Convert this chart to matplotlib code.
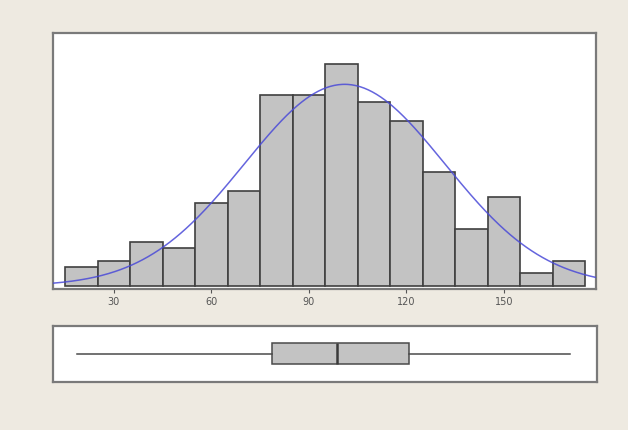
import numpy as np
import matplotlib
matplotlib.use("Agg")
import matplotlib.pyplot as plt

# Histogram data (bin edges and counts)
bin_edges = [15, 25, 35, 45, 55, 65, 75, 85, 95, 105, 115, 125, 135, 145, 155, 165, 175]
counts = [3, 4, 7, 6, 13, 15, 30, 30, 35, 29, 26, 18, 9, 14, 2, 4]

# Fitted normal curve parameters (estimated)
fit_mean = 101.0
fit_sd = 30.8

# Box plot summary (estimated)
box_min = 18.6
box_q1 = 78.4
box_median = 98.5
box_q3 = 120.4
box_max = 169.9

x_ticks = [30, 60, 90, 120, 150]

bg = "#EEEAE1"
frame_col = "#7A7A7A"

fig = plt.figure(figsize=(6.28, 4.31), dpi=100)
fig.patch.set_facecolor(bg)

ax = fig.add_axes([0.0839, 0.327, 0.8645, 0.594])
ax2 = fig.add_axes([0.0839, 0.1125, 0.8665, 0.1295])

xlim = (11.2, 178.2)

# Histogram
edges = np.array(bin_edges, dtype=float)
ax.bar(edges[:-1], counts, width=np.diff(edges), align="edge",
       color="#C3C3C3", edgecolor="#404040", linewidth=1.2, zorder=2)

# Normal curve
n_total = sum(counts)
bw = edges[1] - edges[0]
xs = np.linspace(xlim[0], xlim[1], 400)
ys = n_total * bw / (fit_sd * np.sqrt(2 * np.pi)) * np.exp(-0.5 * ((xs - fit_mean) / fit_sd) ** 2)
ax.plot(xs, ys, color="#4A4AD8", linewidth=1.1, alpha=0.85, zorder=3)

ax.set_xlim(*xlim)
ax.set_ylim(-0.47, 39.8)
ax.set_xticks(x_ticks)
ax.set_xticklabels([str(t) for t in x_ticks])
ax.tick_params(axis="x", direction="out", length=3, width=0.8, colors="#555555",
               labelsize=7, pad=2)
ax.set_yticks([])
for s in ax.spines.values():
    s.set_color(frame_col)
    s.set_linewidth(1.6)
ax.set_facecolor("white")

# Box plot
stats = [dict(med=box_median, q1=box_q1, q3=box_q3, whislo=box_min, whishi=box_max,
              fliers=[])]
ax2.bxp(stats, positions=[0.5], vert=False, widths=0.39, patch_artist=True,
        showcaps=False, showfliers=False,
        boxprops=dict(facecolor="#C3C3C3", edgecolor="#4A4A4A", linewidth=1.1),
        whiskerprops=dict(color="#4A4A4A", linewidth=1.1),
        medianprops=dict(color="#3A3A3A", linewidth=1.8))
ax2.set_xlim(*xlim)
ax2.set_ylim(0, 1)
ax2.set_xticks([])
ax2.set_yticks([])
for s in ax2.spines.values():
    s.set_color(frame_col)
    s.set_linewidth(1.6)
ax2.set_facecolor("white")

fig.savefig("out.png", dpi=100, facecolor=bg)
